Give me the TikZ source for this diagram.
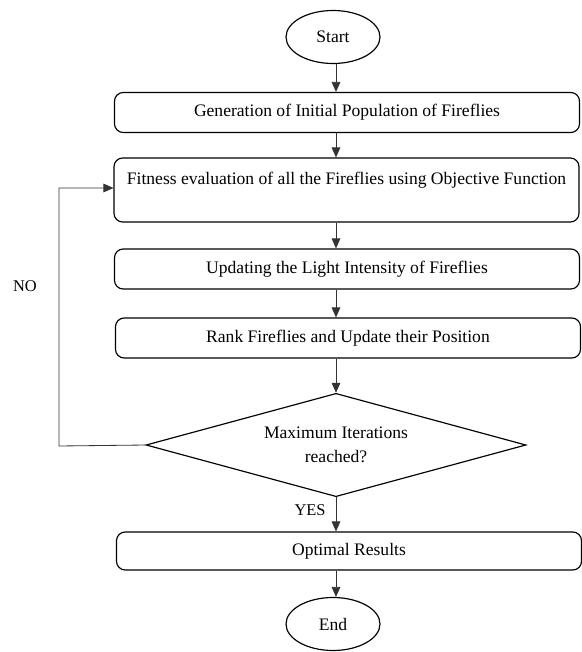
\documentclass[tikz,border=0pt]{standalone}
\usepackage{fontspec}
\setmainfont{Liberation Serif}
\usepackage{tikz}
\usetikzlibrary{arrows.meta,shapes.geometric}

\begin{document}
\begin{tikzpicture}[
  x=0.3mm, y=-0.3mm,
  font=\fontsize{15}{20}\selectfont,
  box/.style={draw, line width=1pt, rounded corners=2.6mm, minimum width=139.5mm, minimum height=12mm, align=center, inner sep=0pt},
  term/.style={draw, line width=1pt, ellipse, minimum width=28.2mm, minimum height=15.9mm, inner sep=0pt},
  decision/.style={draw, line width=1pt, diamond, aspect=3.7, minimum width=114mm, minimum height=31mm, align=center, inner sep=0pt},
  arrow/.style={-{Triangle[length=3mm, width=2.6mm]}, line width=0.7pt, black!80},
  tag/.style={font=\fontsize{14}{16}\selectfont}
]
\useasboundingbox (0,0) rectangle (581,652);

\node[term] (start) at (333, 37) {Start};
\node[box] (gen) at (347, 112.5) {Generation of Initial Population of Fireflies};
\node[box, minimum height=19.2mm] (fit) at (346.5, 190) {Fitness evaluation of all the Fireflies using Objective Function\\ \mbox{}};
\node[box] (upd) at (347, 269) {Updating the Light Intensity of Fireflies};
\node[box] (rank) at (348, 338) {Rank Fireflies and Update their Position};
\node[decision] (dec) at (336, 445) {Maximum Iterations\\reached?};
\node[box, minimum height=11.4mm] (opt) at (349, 551) {Optimal Results};
\node[term] (stop) at (333, 624) {End};

\node[tag] (no) at (25, 286) {NO};
\node[tag] (yes) at (310, 510) {YES};
\coordinate (back) at (59, 446);

% main flow
\draw[arrow] (start.south -| dec) -- (gen.north -| dec);
\draw[arrow] (gen.south -| dec) -- (fit.north -| dec);
\draw[arrow] (fit.south -| dec) -- (upd.north -| dec);
\draw[arrow] (upd.south -| dec) -- (rank.north -| dec);
\draw[arrow] (rank.south -| dec) -- (dec.north);
\draw[arrow] (dec.south) -- (opt.north -| dec);
\draw[arrow] (opt.south -| dec) -- (stop.north -| dec);

% loop back
\draw[arrow] (dec.west) -- (back) |- ([yshift=0.6mm]fit.west);
\end{tikzpicture}
\end{document}
